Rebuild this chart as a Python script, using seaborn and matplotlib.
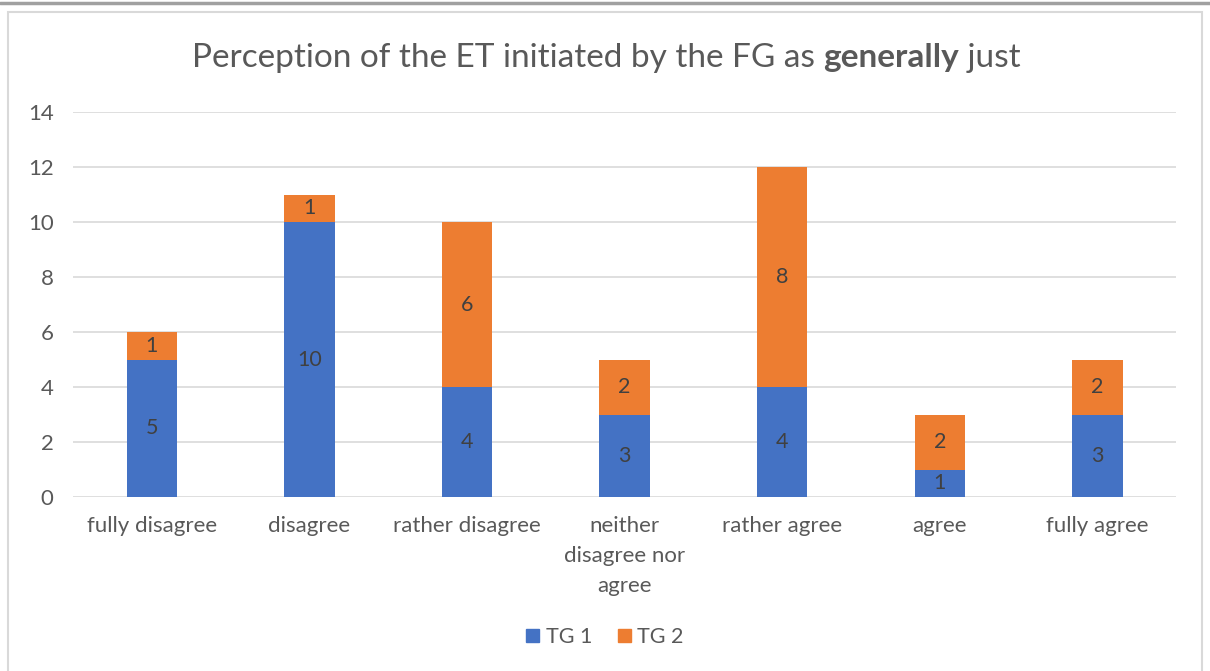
import matplotlib
matplotlib.use("Agg")
import matplotlib.pyplot as plt
import seaborn as sns
import pandas as pd
from matplotlib.patches import Patch, Rectangle
from matplotlib.lines import Line2D

categories = ["fully disagree", "disagree", "rather disagree", "neither\ndisagree nor\nagree",
              "rather agree", "agree", "fully agree"]
tg1 = [5, 10, 4, 3, 4, 1, 3]
tg2 = [1, 1, 6, 2, 8, 2, 2]
series_names = ["TG 1", "TG 2"]
yticks = [0, 2, 4, 6, 8, 10, 12, 14]

BLUE = "#4472C4"
ORANGE = "#ED7D31"
TXT = "#595959"
GRID = "#D9D9D9"

sns.set_theme(style="white")
plt.rcParams["font.family"] = ["Lato", "DejaVu Sans"]

df = pd.DataFrame({"cat": categories, "tg1": tg1, "tg2": tg2})
df["total"] = df["tg1"] + df["tg2"]

fig = plt.figure(figsize=(12.1, 6.71), dpi=100)
ax = fig.add_axes([0.0603, 0.2593, 0.9117, 0.5737])

sns.barplot(data=df, x="cat", y="total", color=ORANGE, width=0.32, ax=ax, saturation=1,
            zorder=3, linewidth=0, edgecolor="none")
sns.barplot(data=df, x="cat", y="tg1", color=BLUE, width=0.32, ax=ax, saturation=1,
            zorder=3, linewidth=0, edgecolor="none")

for i, (a, b) in enumerate(zip(tg1, tg2)):
    ax.text(i, a / 2, str(a), ha="center", va="center", fontsize=15.5, color="#404040", zorder=4)
    ax.text(i, a + b / 2, str(b), ha="center", va="center", fontsize=15.5, color="#404040", zorder=4)

ax.set_ylim(0, 14)
ax.set_yticks(yticks)
ax.set_yticklabels([str(t) for t in yticks])
ax.set_xlim(-0.5, len(categories) - 0.5)
ax.yaxis.grid(True, color=GRID, linewidth=1.2, zorder=0)
ax.set_axisbelow(True)
for s in ax.spines.values():
    s.set_visible(False)
ax.tick_params(axis="both", length=0, colors=TXT, labelsize=16)
ax.tick_params(axis="y", pad=14)
ax.tick_params(axis="x", pad=14)
for lbl in ax.get_xticklabels():
    lbl.set_linespacing(1.6)
    lbl.set_va("top")
ax.set_xlabel("")
ax.set_ylabel("")

# legend
handles = [Patch(facecolor=BLUE, edgecolor=BLUE), Patch(facecolor=ORANGE, edgecolor=ORANGE)]
fig.legend(handles, series_names, loc="center", bbox_to_anchor=(0.5, 1 - 637 / 671), ncol=2,
           frameon=False, fontsize=15.5, labelcolor=TXT, handlelength=0.6, handleheight=0.6,
           handletextpad=0.3, columnspacing=1.2)

# chart border and top line
fig.patches.append(Rectangle((8 / 1210, -0.01), 1194 / 1210, 1 - 12 / 671 + 0.01, transform=fig.transFigure,
                             fill=False, edgecolor="#D9D9D9", linewidth=1.5, zorder=0))
fig.lines.append(Line2D([0, 1], [1 - 3 / 671, 1 - 3 / 671], transform=fig.transFigure,
                        color="#A0A0A0", linewidth=2.5))

# title with bold word
parts = [("Perception of the ET initiated by the FG as ", "normal"), ("generally", "bold"), (" just", "normal")]
fig.canvas.draw()
renderer = fig.canvas.get_renderer()
ty = 1 - 58 / 671
texts = []
widths = []
for s, w in parts:
    t = fig.text(0, ty, s, fontsize=24, color=TXT, weight=w, va="center", ha="left")
    bb = t.get_window_extent(renderer=renderer)
    texts.append(t)
    widths.append(bb.width)
total = sum(widths)
x0 = 606 - total / 2
for t, wdt in zip(texts, widths):
    t.set_x(x0 / 1210)
    x0 += wdt

fig.savefig("out.png", dpi=100)
